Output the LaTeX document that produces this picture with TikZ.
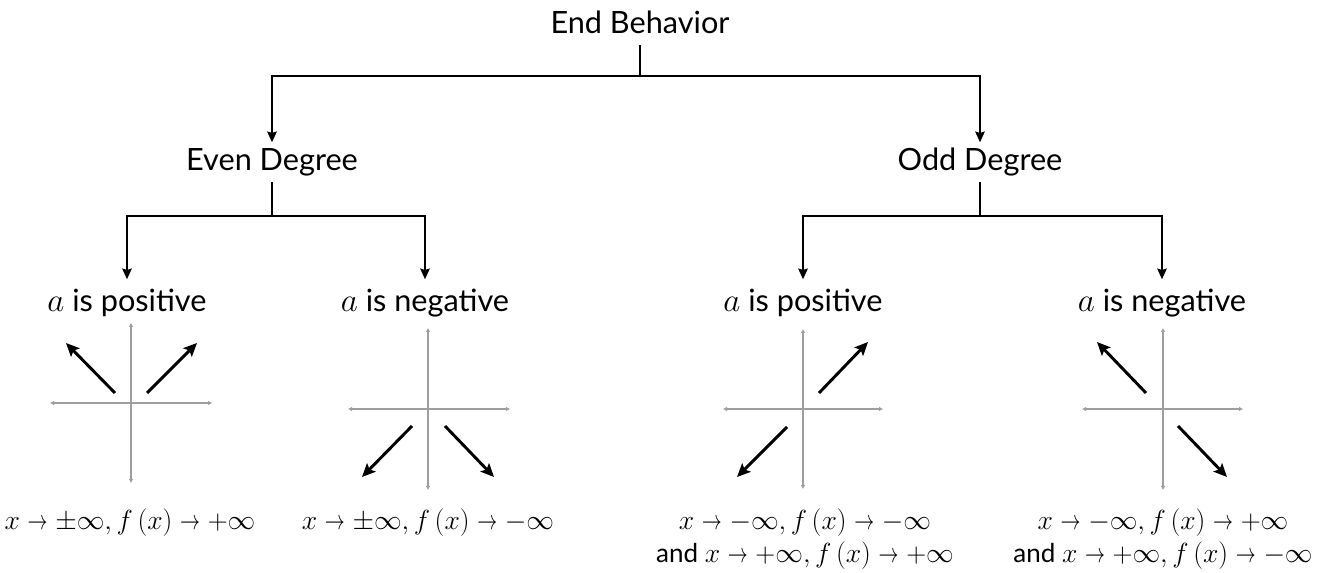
\documentclass[tikz,border=0pt]{standalone}
\usepackage{fontspec}
\setmainfont{Lato}
\usetikzlibrary{arrows.meta}
\newcommand\sto{\mathrel{\scalebox{0.72}[1]{$\rightarrow$}}}
\newcommand\pinf{+\infty}
\newcommand\minf{-\infty}
\tikzset{
  lbl/.style={inner sep=0pt, text height=15pt, text depth=2pt, outer ysep=6.5pt, anchor=base, font=\fontsize{23}{27}\selectfont},
  albl/.style={lbl, outer ysep=9.5pt},
  mth/.style={inner sep=0pt, anchor=base, font=\fontsize{19.5}{23}\selectfont},
  conn/.style={line width=1.9pt, black},
  tip/.style={conn, -{Stealth[length=8pt,width=7pt,inset=1pt]}},
  axis/.style={line width=1.2pt, color=black!38, {Latex[length=3pt,width=3.5pt]}-{Latex[length=3pt,width=3.5pt]}},
  garrow/.style={line width=2.2pt, black, -{Stealth[length=10pt,width=9pt,inset=2pt]}}
}
\begin{document}
\begin{tikzpicture}[x=0.75pt,y=-0.75pt]
\useasboundingbox (0,0) rectangle (1318,573);
% labels
\node[lbl] (eb) at (640,34) {End Behavior};
\node[lbl] (even) at (272,171) {Even Degree};
\node[lbl] (odd) at (980,171) {Odd Degree};
\node[albl] (ep) at (127,312) {$a$ is positive};
\node[albl] (en) at (425,312) {$a$ is negative};
\node[albl] (op) at (803,312) {$a$ is positive};
\node[albl] (on) at (1162,312) {$a$ is negative};
% connectors
\coordinate (j0) at (640,76);
\coordinate (j1) at (272,216);
\coordinate (j2) at (980,216);
\draw[conn] (eb.south) -- (j0);
\draw[tip] (j0) -| (even.north);
\draw[tip] (j0) -| (odd.north);
\draw[conn] (even.south) -- (j1);
\draw[tip] (j1) -| (ep.north);
\draw[tip] (j1) -| (en.north);
\draw[conn] (odd.south) -- (j2);
\draw[tip] (j2) -| (op.north);
\draw[tip] (j2) -| (on.north);
% graph 1: even, positive
\draw[axis] (50,403) -- (212,403);
\draw[axis] (131,483) -- (131,323);
\draw[garrow] (115,393) -- (66,343);
\draw[garrow] (147,393) -- (197,343);
% graph 2: even, negative
\draw[axis] (348,409) -- (510,409);
\draw[axis] (428,490) -- (428,328);
\draw[garrow] (412,426) -- (362,477);
\draw[garrow] (445,426) -- (494,477);
% graph 3: odd, positive
\draw[axis] (723,409) -- (883,409);
\draw[axis] (803,489) -- (803,329);
\draw[garrow] (819,393) -- (868,342);
\draw[garrow] (787,427) -- (737,477);
% graph 4: odd, negative
\draw[axis] (1082,409) -- (1243,409);
\draw[axis] (1163,490) -- (1163,328);
\draw[garrow] (1146,393) -- (1097,342);
\draw[garrow] (1178,426) -- (1227,477);
% bottom texts
\node[mth] (t1) at (130,530) {$x \sto \pm\infty, f\,(x) \sto \pinf$};
\node[mth] (t2) at (428,530) {$x \sto \pm\infty, f\,(x) \sto \minf$};
\node[mth] (t3) at (805,530) {$x \sto \minf, f\,(x) \sto \minf$};
\node[mth] (t3b) at (805,562) {and $x \sto \pinf, f\,(x) \sto \pinf$};
\node[mth] (t4) at (1163,530) {$x \sto \minf, f\,(x) \sto \pinf$};
\node[mth] (t4b) at (1163,562) {and $x \sto \pinf, f\,(x) \sto \minf$};
\end{tikzpicture}
\end{document}
